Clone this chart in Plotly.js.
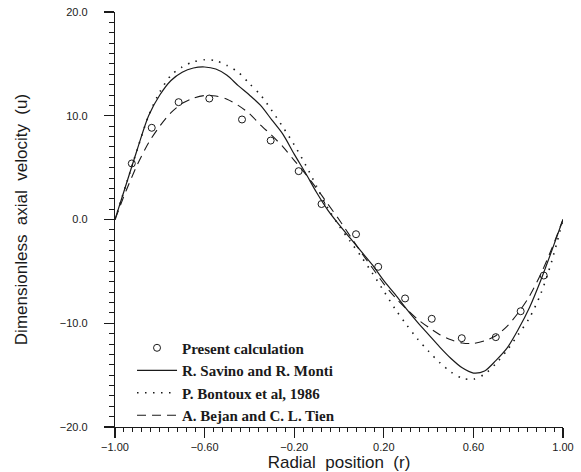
<!DOCTYPE html>
<html>
<head>
<meta charset="utf-8">
<script src="https://cdn.plot.ly/plotly-3.0.1.min.js"></script>
<style>html,body{margin:0;padding:0;background:#fff;}#chart{width:581px;height:472px;}</style>
</head>
<body>
<div id="chart"></div>
<script>
// Present calculation (circles)
const presentR = [-0.925, -0.836, -0.716, -0.579, -0.433, -0.305, -0.180, -0.078, 0.076, 0.175, 0.295, 0.414, 0.548, 0.700, 0.811, 0.914];
const presentU = [5.40, 8.84, 11.31, 11.66, 9.64, 7.61, 4.66, 1.49, -1.42, -4.56, -7.61, -9.57, -11.44, -11.34, -8.84, -5.40];

// Common radial grid for the curves
const curveR = [-1.00, -0.95, -0.90, -0.85, -0.80, -0.75, -0.70, -0.65, -0.60, -0.55, -0.50, -0.45, -0.40, -0.35, -0.30, -0.25, -0.20, -0.15, -0.10, -0.05, 0.00,
                 0.05, 0.10, 0.15, 0.20, 0.25, 0.30, 0.35, 0.40, 0.45, 0.50, 0.55, 0.60, 0.65, 0.70, 0.75, 0.80, 0.85, 0.90, 0.95, 1.00];

// R. Savino and R. Monti (solid)
const savinoU = [0, 3.4, 6.8, 10.0, 12.0, 13.4, 14.2, 14.6, 14.7, 14.5, 13.9, 12.9, 12.0, 11.0, 9.6, 8.2, 6.3, 4.5, 2.6, 0.9, -0.5,
                 -1.8, -3.1, -4.4, -5.9, -7.2, -8.6, -9.9, -11.1, -12.3, -13.4, -14.3, -14.8, -14.6, -13.6, -12.4, -10.6, -8.5, -5.9, -3.0, 0];

// P. Bontoux et al, 1986 (dotted)
const bontouxU = [0, 3.4, 6.8, 10.0, 12.3, 13.9, 14.7, 15.2, 15.4, 15.3, 14.85, 14.2, 13.1, 12.0, 10.5, 8.9, 7.2, 5.3, 3.2, 1.1, -0.6,
                  -2.1, -3.6, -5.2, -6.9, -8.6, -10.1, -11.5, -12.7, -13.8, -14.7, -15.3, -15.4, -14.9, -13.9, -12.6, -11.1, -9.5, -7.2, -4.0, 0];

// A. Bejan and C. L. Tien (dashed)
const bejanU = [0, 2.8, 5.3, 7.4, 9.0, 10.3, 11.2, 11.7, 11.95, 11.9, 11.6, 11.0, 10.2, 9.1, 8.1, 7.0, 5.7, 4.4, 3.0, 1.5, 0,
                -1.6, -3.2, -4.7, -6.2, -7.5, -8.6, -9.6, -10.4, -11.1, -11.6, -11.9, -11.95, -11.7, -11.2, -10.3, -9.0, -7.4, -5.3, -2.8, 0];

const legendNames = ['Present calculation', 'R. Savino and R. Monti', 'P. Bontoux et al, 1986', 'A. Bejan and C. L. Tien'];
const xTicks = [-1.0, -0.6, -0.2, 0.2, 0.6, 1.0];
const xTickText = ['\u22121.00', '\u22120.60', '\u22120.20', '0.20', '0.60', '1.00'];
const yTicks = [-20, -10, 0, 10, 20];
const yTickText = ['\u221220.0', '\u221210.0', '0.0', '10.0', '20.0'];

const ink = '#1a1a1a';
const traces = [
  {x: presentR, y: presentU, mode: 'markers', name: legendNames[0],
   marker: {symbol: 'circle-open', size: 7, color: ink, line: {width: 1, color: ink}}},
  {x: curveR, y: savinoU, mode: 'lines', name: legendNames[1],
   line: {color: ink, width: 1.2, shape: 'spline', smoothing: 0.8}},
  {x: curveR, y: bontouxU, mode: 'lines', name: legendNames[2],
   line: {color: ink, width: 1.6, dash: '1.5px,6.5px', shape: 'spline', smoothing: 0.8}},
  {x: curveR, y: bejanU, mode: 'lines', name: legendNames[3],
   line: {color: ink, width: 1.1, dash: '9px,6px', shape: 'spline', smoothing: 0.8}}
];

const axisFont = {family: 'Liberation Sans, Arial, sans-serif', size: 11, color: ink};
const titleFont = {family: 'Liberation Sans, Arial, sans-serif', size: 17, color: ink};
const layout = {
  width: 581, height: 472,
  margin: {l: 115, r: 18, t: 12, b: 45},
  paper_bgcolor: '#fff', plot_bgcolor: '#fff',
  showlegend: true,
  legend: {x: 0.038, y: 0.23, xanchor: 'left', yanchor: 'top', bgcolor: 'rgba(0,0,0,0)',
           font: {family: 'Liberation Serif, Times New Roman, serif', size: 15, weight: 'bold', color: ink},
           itemwidth: 40, tracegroupgap: 0},
  xaxis: {range: [-1, 1], showgrid: false, zeroline: false, showline: true, linecolor: ink, linewidth: 1.2,
          tickmode: 'array', tickvals: xTicks, ticktext: xTickText, ticks: 'outside', ticklen: 10, tickwidth: 1.2, tickcolor: ink,
          minor: {dtick: 0.04, ticks: 'outside', ticklen: 4, tickwidth: 1, tickcolor: ink, showgrid: false},
          tickfont: axisFont,
          title: {text: 'Radial\u00a0\u00a0position\u00a0\u00a0(r)', font: titleFont, standoff: 0}},
  yaxis: {range: [-20, 20], showgrid: false, zeroline: false, showline: true, linecolor: ink, linewidth: 1.2,
          tickmode: 'array', tickvals: yTicks, ticktext: yTickText, ticks: 'outside', ticklen: 10, tickwidth: 1.2, tickcolor: ink,
          minor: {dtick: 1, ticks: 'outside', ticklen: 5, tickwidth: 1, tickcolor: ink, showgrid: false},
          ticklabelstandoff: 14,
          tickfont: axisFont,
          title: {text: 'Dimensionless\u00a0\u00a0axial\u00a0\u00a0velocity\u00a0\u00a0(u)', font: titleFont, standoff: 27}}
};

Plotly.newPlot('chart', traces, layout, {displayModeBar: false, staticPlot: true});
</script>
</body>
</html>
